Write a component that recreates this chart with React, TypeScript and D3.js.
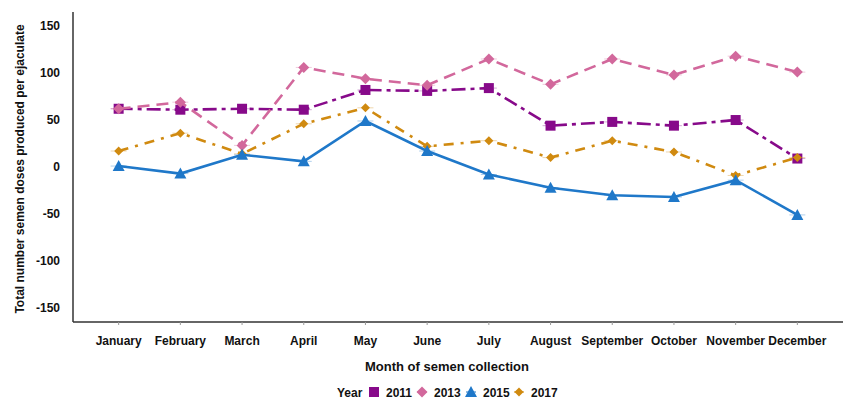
import React from "react";
import * as d3 from "d3";

const months = ["January", "February", "March", "April", "May", "June", "July", "August", "September", "October", "November", "December"];
const years = ["2011", "2013", "2015", "2017"];
const values2011 = [62, 61, 62, 61, 82, 81, 84, 44, 48, 44, 50, 9];
const values2013 = [62, 69, 23, 106, 94, 87, 115, 88, 115, 98, 118, 101];
const values2015 = [1, -7, 13, 6, 49, 17, -8, -22, -30, -32, -14, -51];
const values2017 = [17, 36, 14, 46, 63, 22, 28, 10, 28, 16, -9, 10];
const yTicks = [-150, -100, -50, 0, 50, 100, 150];

const W = 846;
const H = 399;
const left = 73;
const right = 843;
const top = 12;
const bottom = 322;
const FONT = "'Liberation Sans', Arial, sans-serif";

type Shape = "square" | "diamond" | "triangle" | "smallDiamond";
const seriesList: { name: string; values: number[]; color: string; dash: string; shape: Shape }[] = [
  { name: years[0], values: values2011, color: "#870a8a", dash: "14 5 4 5", shape: "square" },
  { name: years[1], values: values2013, color: "#d2689c", dash: "12 7", shape: "diamond" },
  { name: years[3], values: values2017, color: "#d08a10", dash: "10 7 3 7", shape: "smallDiamond" },
  { name: years[2], values: values2015, color: "#1f78c9", dash: "", shape: "triangle" },
];

function marker(shape: Shape, x: number, y: number, color: string, key: string) {
  if (shape === "square") return <rect key={key} x={x - 5} y={y - 5} width={10} height={10} fill={color} />;
  if (shape === "diamond")
    return <path key={key} d={`M${x},${y - 5.5}L${x + 5.5},${y}L${x},${y + 5.5}L${x - 5.5},${y}Z`} fill={color} />;
  if (shape === "smallDiamond")
    return <path key={key} d={`M${x},${y - 4.5}L${x + 4.5},${y}L${x},${y + 4.5}L${x - 4.5},${y}Z`} fill={color} />;
  return <path key={key} d={`M${x},${y - 6}L${x + 6},${y + 5}L${x - 6},${y + 5}Z`} fill={color} />;
}

export default function App() {
  const x = d3.scalePoint<string>().domain(months).range([left, right]).padding(0.74);
  const y = d3.scaleLinear().domain([-165, 165]).range([bottom, top]);
  const line = d3
    .line<number>()
    .x((_, i) => x(months[i]) as number)
    .y((d) => y(d));

  const legendItems = [
    { name: years[0], color: "#870a8a", shape: "square" as Shape, x: 374 },
    { name: years[1], color: "#d2689c", shape: "diamond" as Shape, x: 422 },
    { name: years[2], color: "#1f78c9", shape: "triangle" as Shape, x: 471 },
    { name: years[3], color: "#d08a10", shape: "smallDiamond" as Shape, x: 519 },
  ];

  return (
    <svg width={W} height={H} style={{ position: "absolute", left: 0, top: 0, background: "#fff" }} fontFamily={FONT}>
      {/* axes */}
      <line x1={left} x2={left} y1={top} y2={bottom} stroke="#333" strokeWidth={1.5} />
      <line x1={left} x2={right} y1={bottom} y2={bottom} stroke="#333" strokeWidth={1.5} />
      {yTicks.map((t) => (
        <text key={t} x={60} y={y(t)} dy="0.35em" textAnchor="end" fontSize={12} fontWeight="bold" fill="#111">
          {t}
        </text>
      ))}
      {months.map((m) => (
        <g key={m}>
          <line x1={x(m)} x2={x(m)} y1={bottom} y2={bottom + 3} stroke="#999" />
          <text x={x(m)} y={345} textAnchor="middle" fontSize={12} fontWeight="bold" fill="#111">
            {m}
          </text>
        </g>
      ))}
      <text x={447} y={371} textAnchor="middle" fontSize={13} fontWeight="bold" fill="#111">
        Month of semen collection
      </text>
      <text
        transform={`translate(24,${(top + bottom) / 2 + 2}) rotate(-90)`}
        textAnchor="middle"
        fontSize={12}
        fontWeight="bold"
        fill="#111"
      >
        Total number semen doses produced per ejaculate
      </text>

      {/* series */}
      {seriesList.map((s) => (
        <g key={s.name}>
          <path d={line(s.values) || ""} fill="none" stroke={s.color} strokeWidth={2.6} strokeDasharray={s.dash || undefined} />
          {s.values.map((v, i) => {
            const cx = x(months[i]) as number;
            const cy = y(v);
            return (
              <g key={i}>
                <line x1={cx - 8} x2={cx + 8} y1={cy} y2={cy} stroke={s.color} strokeOpacity={0.35} strokeWidth={1} />
                {marker(s.shape, cx, cy, s.color, "m" + i)}
              </g>
            );
          })}
        </g>
      ))}

      {/* legend */}
      <text x={337} y={397} fontSize={12} fontWeight="bold" fill="#111">
        Year
      </text>
      {legendItems.map((it) => (
        <g key={it.name}>
          <line x1={it.x - 5} x2={it.x + 5} y1={392} y2={392} stroke={it.color} strokeOpacity={0.5} strokeWidth={2} />
          {marker(it.shape, it.x, 392, it.color, "lg")}
          <text x={it.x + 12} y={397} fontSize={12} fontWeight="bold" fill="#111">
            {it.name}
          </text>
        </g>
      ))}
    </svg>
  );
}
